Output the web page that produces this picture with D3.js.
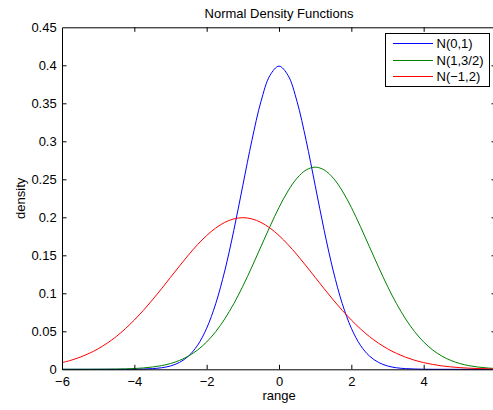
<!DOCTYPE html>
<html>
<head>
<meta charset="utf-8">
<script src="https://cdn.jsdelivr.net/npm/d3@7"></script>
<style>
  html, body { margin: 0; padding: 0; background: #fff; overflow: hidden; }
  svg { display: block; }
  text { font-family: "Liberation Sans", Arial, Helvetica, sans-serif; fill: #000; }
</style>
</head>
<body>
<svg id="chart" width="493" height="410"></svg>
<script>
// ---- data ----
const xValues = [-6,-5.75,-5.5,-5.25,-5,-4.75,-4.5,-4.25,-4,-3.75,-3.5,-3.25,-3,-2.75,-2.5,-2.25,-2,-1.75,-1.5,-1.25,-1,-0.75,-0.5,-0.25,0,0.25,0.5,0.75,1,1.25,1.5,1.75,2,2.25,2.5,2.75,3,3.25,3.5,3.75,4,4.25,4.5,4.75,5,5.25,5.5,5.75,6];
const densityN01 = [0,0,0,0,0,0,0,0,0.0001,0.0004,0.0009,0.0020,0.0044,0.0091,0.0175,0.0317,0.0540,0.0863,0.1295,0.1826,0.2420,0.3011,0.3521,0.3867,0.3989,0.3867,0.3521,0.3011,0.2420,0.1826,0.1295,0.0863,0.0540,0.0317,0.0175,0.0091,0.0044,0.0020,0.0009,0.0004,0.0001,0,0,0,0,0,0,0,0];
const densityN1_15 = [0,0,0,0,0.0001,0.0002,0.0003,0.0006,0.0010,0.0018,0.0030,0.0048,0.0076,0.0117,0.0175,0.0254,0.0360,0.0495,0.0663,0.0863,0.1093,0.1347,0.1613,0.1879,0.2130,0.2347,0.2516,0.2623,0.2660,0.2623,0.2516,0.2347,0.2130,0.1879,0.1613,0.1347,0.1093,0.0863,0.0663,0.0495,0.0360,0.0254,0.0175,0.0117,0.0076,0.0048,0.0030,0.0018,0.0010];
const densityNm1_2 = [0.0088,0.0119,0.0159,0.0209,0.0270,0.0344,0.0431,0.0533,0.0648,0.0775,0.0913,0.1059,0.1210,0.1360,0.1506,0.1641,0.1760,0.1859,0.1933,0.1979,0.1995,0.1979,0.1933,0.1859,0.1760,0.1641,0.1506,0.1360,0.1210,0.1059,0.0913,0.0775,0.0648,0.0533,0.0431,0.0344,0.0270,0.0209,0.0159,0.0119,0.0088,0.0064,0.0045,0.0032,0.0022,0.0015,0.0010,0.0007,0.0004];
const seriesNames = ["N(0,1)", "N(1,3/2)", "N(\u22121,2)"];
const seriesColors = ["#0000ff", "#008000", "#ff0000"];
const xTicks = [-6,-4,-2,0,2,4,6];
const xTickLabels = ["\u22126","\u22124","\u22122","0","2","4","6"];
const yTicks = [0,0.05,0.1,0.15,0.2,0.25,0.3,0.35,0.4,0.45];
const yTickLabels = ["0","0.05","0.1","0.15","0.2","0.25","0.3","0.35","0.4","0.45"];
const titleText = "Normal Density Functions";
const xLabelText = "range";
const yLabelText = "density";

// ---- layout ----
const svg = d3.select("#chart");
const L = 62, R = 496, T = 27.3, B = 369.3;
const x = d3.scaleLinear().domain([-6, 6]).range([L, R]);
const y = d3.scaleLinear().domain([0, 0.45]).range([B, T]);
const tick = 4.5;

// lines
const series = [densityN01, densityN1_15, densityNm1_2];
const line = d3.line()
  .x(d => x(d[0]))
  .y(d => y(d[1]))
  .curve(d3.curveCatmullRom.alpha(0.5));

const plot = svg.append("g");
series.forEach((vals, i) => {
  plot.append("path")
    .datum(xValues.map((xv, j) => [xv, vals[j]]))
    .attr("fill", "none")
    .attr("stroke", seriesColors[i])
    .attr("stroke-width", 1)
    .attr("d", line);
});

// axes
const fmtX = (d) => xTickLabels[xTicks.indexOf(d)];
const fmtY = (d) => yTickLabels[yTicks.indexOf(d)];

const gB = svg.append("g").attr("transform", `translate(0,${B})`)
  .call(d3.axisBottom(x).tickValues(xTicks).tickFormat(fmtX).tickSizeInner(-tick).tickSizeOuter(0).tickPadding(7.5));
const gT = svg.append("g").attr("transform", `translate(0,${T})`)
  .call(d3.axisTop(x).tickValues(xTicks).tickFormat("").tickSizeInner(-tick).tickSizeOuter(0));
const gL = svg.append("g").attr("transform", `translate(${L},0)`)
  .call(d3.axisLeft(y).tickValues(yTicks).tickFormat(fmtY).tickSizeInner(-tick).tickSizeOuter(0).tickPadding(5.3));
const gR = svg.append("g").attr("transform", `translate(${R},0)`)
  .call(d3.axisRight(y).tickValues(yTicks).tickFormat("").tickSizeInner(-tick).tickSizeOuter(0));

[gB, gT, gL, gR].forEach(g => {
  g.selectAll("path.domain").attr("stroke", "#000").attr("stroke-width", 1);
  g.selectAll(".tick line").attr("stroke", "#000").attr("stroke-width", 1);
  g.selectAll(".tick text").style("font-size", "13px").attr("fill", "#000")
    .style("font-family", "'Liberation Sans', Arial, sans-serif");
});
// hide end ticks that overlap the box corners
gB.selectAll(".tick").filter(d => d === -6 || d === 6).select("line").remove();
gT.selectAll(".tick").filter(d => d === -6 || d === 6).remove();
gL.selectAll(".tick").filter(d => d === 0 || d === 0.45).select("line").remove();
gR.selectAll(".tick").filter(d => d === 0 || d === 0.45).remove();

// title and labels
svg.append("text").attr("x", (L + R) / 2).attr("y", 18)
  .attr("text-anchor", "middle").style("font-size", "13px").text(titleText);
svg.append("text").attr("x", (L + R) / 2).attr("y", 400)
  .attr("text-anchor", "middle").style("font-size", "13px").text(xLabelText);
svg.append("text").attr("transform", `translate(25,${(T + B) / 2}) rotate(-90)`)
  .attr("text-anchor", "middle").style("font-size", "13px").text(yLabelText);

// legend
const lg = svg.append("g");
lg.append("rect").attr("x", 385.5).attr("y", 33.5).attr("width", 104).attr("height", 53)
  .attr("fill", "#fff").attr("stroke", "#000").attr("stroke-width", 1);
const legY = [43.5, 60.5, 76.5];
seriesNames.forEach((name, i) => {
  lg.append("line").attr("x1", 393).attr("x2", 433).attr("y1", legY[i]).attr("y2", legY[i])
    .attr("stroke", seriesColors[i]).attr("stroke-width", 1);
  lg.append("text").attr("x", 436.5).attr("y", legY[i]).attr("dy", "0.36em")
    .style("font-size", "13px").text(name);
});
</script>
</body>
</html>
